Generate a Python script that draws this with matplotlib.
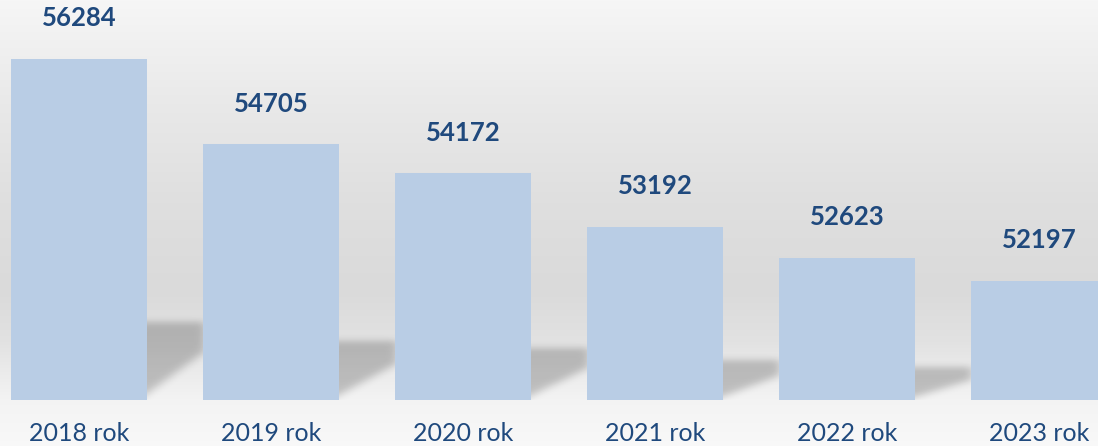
import numpy as np
import matplotlib
matplotlib.use("Agg")
import matplotlib.pyplot as plt

years = ["2018 rok", "2019 rok", "2020 rok", "2021 rok", "2022 rok", "2023 rok"]
values = [56284, 54705, 54172, 53192, 52623, 52197]

bar_color = "#b9cde5"
text_color = "#1f497d"
base = 50000
ytop = 57364
xlim = (-0.411, 5.307)
bar_w = 0.708

W, H = 1098, 446
fig = plt.figure(figsize=(W / 100, H / 100), dpi=100)

# background gradient (whole figure)
bg = fig.add_axes([0, 0, 1, 1])
bg.set_axis_off()
stops_y = [0, 100, 200, 290, 340, 370, 400, 446]
stops_v = [0.965, 0.915, 0.875, 0.855, 0.885, 0.92, 0.955, 0.975]
grad = np.interp(np.arange(H), stops_y, stops_v)
img = np.repeat(grad[:, None], W, axis=1)
bg.imshow(np.dstack([img] * 3), aspect="auto", extent=[0, 1, 0, 1], origin="upper")
bg.set_xlim(0, 1)
bg.set_ylim(0, 1)

ax = fig.add_axes([0, 46 / H, 1, 400 / H])
ax.patch.set_alpha(0)
ax.set_xlim(*xlim)
ax.set_ylim(base, ytop)

# soft shadows cast to the right of each bar
nx, ny = W, 400
xs = np.linspace(xlim[0], xlim[1], nx)
ys = np.linspace(base, ytop, ny)
X, Y = np.meshgrid(xs, ys)
mask = np.zeros_like(X)
sw = 0.30
for i, v in enumerate(values):
    right = i + bar_w / 2
    st = base + 0.228 * (v - base)
    t = (X - right) / sw
    bottom = base + (0.08 + 0.54 * t) * (st - base)
    inside = (t >= -0.2) & (t <= 1) & (Y <= st) & (Y >= bottom)
    mask[inside] = 1.0


def blur(a, sigma, axis):
    r = int(3 * sigma)
    k = np.exp(-0.5 * (np.arange(-r, r + 1) / sigma) ** 2)
    k /= k.sum()
    return np.apply_along_axis(lambda m: np.convolve(m, k, mode="same"), axis, a)


mask = blur(blur(mask, 3.5, 0), 5, 1)
shadow = np.zeros((ny, nx, 4))
shadow[..., 3] = mask * 0.21
ax.imshow(shadow, extent=[xlim[0], xlim[1], base, ytop], origin="lower",
          aspect="auto", zorder=1)

x = np.arange(len(values))
bars = ax.bar(x, [v - base for v in values], bottom=base, width=bar_w,
              color=bar_color, zorder=2)

for xi, v in zip(x, values):
    ax.annotate(str(v), (xi, v), xytext=(0, 29), textcoords="offset points",
                ha="center", va="center", fontsize=18.5, fontweight="bold",
                color=text_color, family="Lato")

ax.set_xticks(x)
ax.set_xticklabels(years, fontsize=18, color=text_color, family="Lato")
ax.tick_params(axis="x", length=0, pad=16)
ax.set_yticks([])
for s in ax.spines.values():
    s.set_visible(False)

fig.savefig("out.png", dpi=100)
